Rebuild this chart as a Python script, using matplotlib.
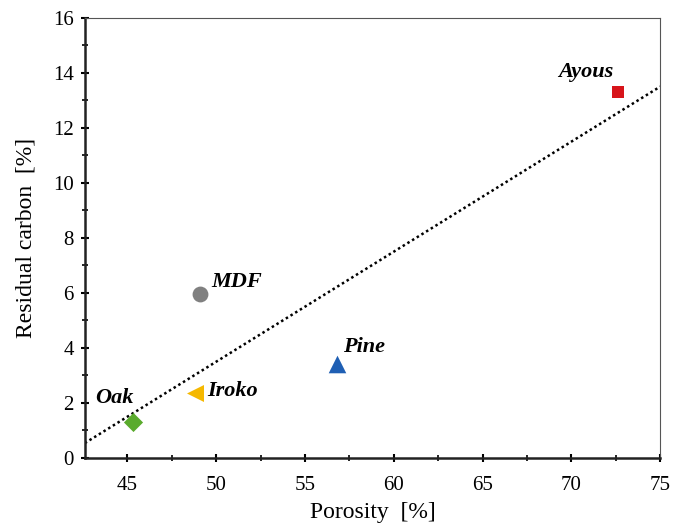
import matplotlib
matplotlib.use("Agg")
import matplotlib.pyplot as plt
from matplotlib.ticker import MultipleLocator

# wood samples
names    = ["Ayous", "MDF", "Pine", "Iroko", "Oak"]
porosity = [72.6, 49.1, 56.8, 48.8, 45.3]
carbon   = [13.3, 5.95, 3.4, 2.35, 1.3]
markers  = ["s", "o", "^", "<", "D"]
colors   = ["#d7141a", "#808080", "#1f5fb4", "#f5b800", "#5aab2d"]
sizes    = [80, 130, 160, 150, 95]

# label offsets in points (dx, dy) and vertical alignment
offsets  = [(-43, 11), (8, 5), (4, 9), (9, 2), (-27, 14)]
valigns  = ["baseline", "baseline", "baseline", "center", "baseline"]

# linear trend line
slope, intercept = 0.40, -16.5
trend_x = [42.6, 75.0]

plt.rcParams["font.family"] = ["Liberation Serif", "DejaVu Serif"]

fig = plt.figure(figsize=(6.73, 5.24), dpi=100)
ax = fig.add_axes([0.126, 0.126, 0.855, 0.840])

ax.plot(trend_x, [slope*x + intercept for x in trend_x],
        linestyle=(0, (1, 1.2)), color="black", lw=1.8)

for n, x, y, m, c, s, off, va in zip(names, porosity, carbon, markers, colors, sizes, offsets, valigns):
    ax.scatter(x, y, marker=m, s=s, color=c, zorder=3, linewidths=0)
    ax.annotate(n, (x, y), xytext=off, textcoords="offset points",
                fontsize=16, fontweight="bold", fontstyle="italic", va=va)

ax.set_xlim(42.6, 75)
ax.set_ylim(0, 16)
ax.xaxis.set_major_locator(MultipleLocator(5))
ax.xaxis.set_minor_locator(MultipleLocator(2.5))
ax.yaxis.set_major_locator(MultipleLocator(2))
ax.yaxis.set_minor_locator(MultipleLocator(1))
ax.tick_params(which="major", length=6, width=1.5, labelsize=15, direction="inout")
ax.tick_params(which="minor", length=4, width=1.2, direction="inout")
ax.tick_params(axis="x", pad=10)
ax.tick_params(axis="y", pad=5)

for side in ["left", "bottom"]:
    ax.spines[side].set_linewidth(1.8)
    ax.spines[side].set_color("#222222")
for side in ["top", "right"]:
    ax.spines[side].set_linewidth(0.8)
    ax.spines[side].set_color("#555555")

ax.set_xlabel("Porosity  [%]", fontsize=17, labelpad=5)
ax.set_ylabel("Residual carbon  [%]", fontsize=17, labelpad=12)

fig.savefig("out.png", dpi=100)
